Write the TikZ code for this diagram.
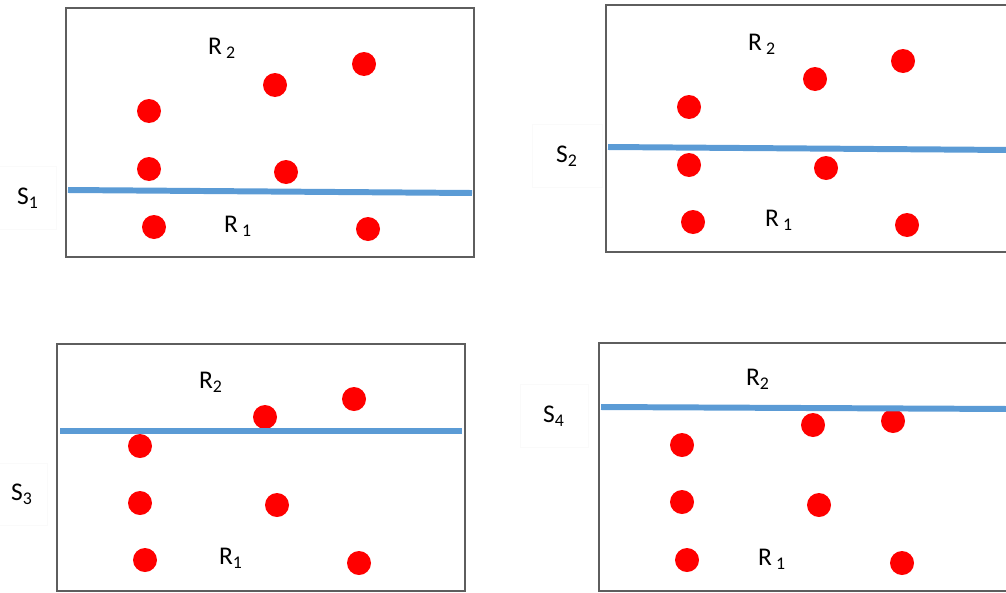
\documentclass[tikz,border=0pt]{standalone}
\usepackage{fontspec}
\setmainfont{Carlito}
\definecolor{splitblue}{HTML}{5B9BD5}
\definecolor{framegray}{HTML}{5E5E5E}

\begin{document}
\begin{tikzpicture}[x=0.02cm, y=-0.02cm,
  frame/.style={draw=framegray, line width=1.2pt},
  dot/.style={circle, fill=red, inner sep=0pt, minimum size=0.48cm},
  split/.style={splitblue, line width=3.4pt},
  lab/.style={font=\fontsize{14.5}{16}\selectfont, inner sep=0pt},
  tag/.style={lab, draw=black!2, line width=0.4pt}]
  \useasboundingbox (0,0) rectangle (1006,592);
  \clip (0,0) rectangle (1006,592);

  % Panel S_1
  \draw[frame] (66,8) rectangle (474,257);
  \foreach \x/\y [count=\i] in {149/111, 149/169, 275/85, 364/64, 286/172, 154/227, 368/229}
    \node[dot] (a\i) at (\x,\y) {};
  \coordinate (a-l) at (68,190);
  \coordinate (a-r) at (472,193);
  \draw[split] (a-l) -- (a-r);
  \node[lab] (a-up) at (222,48) {R\,\textsubscript{2}};
  \node[lab] (a-dn) at (238,226) {R\,\textsubscript{1}};
  \node[tag, minimum width=1.14cm, minimum height=1.26cm] (a-s) at (28,198) {S\textsubscript{1}};

  % Panel S_2
  \draw[frame] (606,5) rectangle (1012,252);
  \foreach \x/\y [count=\i] in {689/107, 689/165, 815/79, 903/61, 826/168, 693/222, 907/225}
    \node[dot] (b\i) at (\x,\y) {};
  \coordinate (b-l) at (608,147);
  \coordinate (b-r) at (1010,150);
  \draw[split] (b-l) -- (b-r);
  \node[lab] (b-up) at (762,44) {R\,\textsubscript{2}};
  \node[lab] (b-dn) at (779,220) {R\,\textsubscript{1}};
  \node[tag, minimum width=1.4cm, minimum height=1.26cm] (b-s) at (567,156) {S\textsubscript{2}};

  % Panel S_3
  \draw[frame] (57,344) rectangle (465,591);
  \foreach \x/\y [count=\i] in {140/446, 140/503, 265/417, 354/399, 277/505, 145/560, 359/563}
    \node[dot] (c\i) at (\x,\y) {};
  \coordinate (c-l) at (60,431);
  \coordinate (c-r) at (462,431);
  \draw[split] (c-l) -- (c-r);
  \node[lab] (c-up) at (211,382) {R\textsubscript{2}};
  \node[lab] (c-dn) at (231,558) {R\textsubscript{1}};
  \node[tag, minimum width=1.0cm, minimum height=1.24cm] (c-s) at (22,494) {S\textsubscript{3}};

  % Panel S_4
  \draw[frame] (599,343) rectangle (1012,591);
  \foreach \x/\y [count=\i] in {682/445, 682/502, 813/425, 893/421, 819/505, 687/560, 902/563}
    \node[dot] (d\i) at (\x,\y) {};
  \coordinate (d-l) at (601,407);
  \coordinate (d-r) at (1010,409);
  \draw[split] (d-l) -- (d-r);
  \node[lab] (d-up) at (758,379) {R\textsubscript{2}};
  \node[lab] (d-dn) at (772,559) {R\,\textsubscript{1}};
  \node[tag, minimum width=1.36cm, minimum height=1.26cm] (d-s) at (554,416) {S\textsubscript{4}};
\end{tikzpicture}
\end{document}
